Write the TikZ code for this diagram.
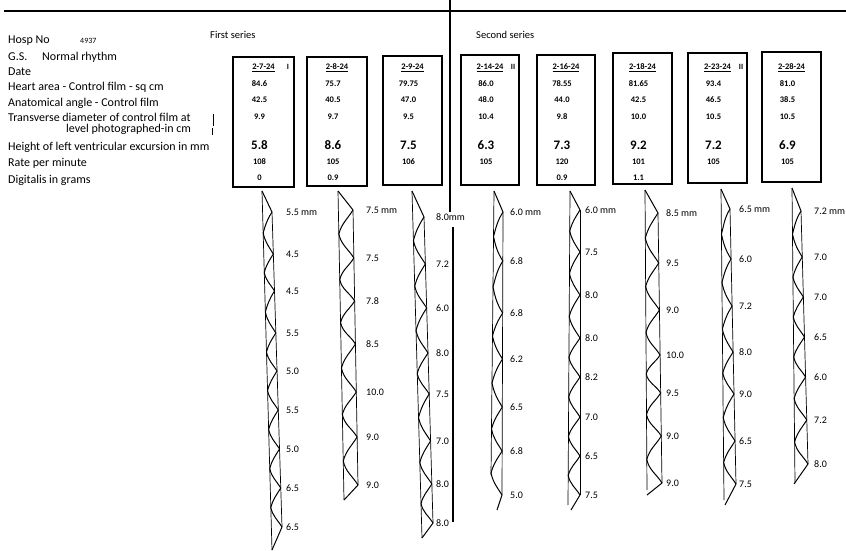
\documentclass[tikz,border=0pt]{standalone}
\usepackage{fontspec}
\setmainfont{Carlito}
\newcommand\fs[1]{\fontsize{#1}{#1}\selectfont}
\def\setcol#1#2#3#4#5#6#7#8#9{\def\xl{#1}\def\yl{#2}\def\xL{#3}\def\yL{#4}\def\xr{#5}\def\yr{#6}\def\xR{#7}\def\yR{#8}\def\lx{#9}}
\newcommand\drawcol[1]{%
  \pgfmathsetmacro\yq{2*\yl-\yr}%
  \coordinate (c#1top) at (\xl,\yl);
  \coordinate (c#1lb) at (\xL,\yL);
  \coordinate (c#1rt) at (\xr,\yr);
  \coordinate (c#1rb) at (\xR,\yR);
  \coordinate (c#1end) at (\bx,\by);
  \draw[wline] (c#1top) -- (c#1lb);
  \draw[wline] (c#1rt) -- (c#1rb);
  \foreach \p/\t [count=\i, remember=\p as \q (initially \yq)] in \pk {
    \pgfmathsetmacro\ty{(\q+\p)/2}
    \pgfmathsetmacro\tx{\xl+(\xL-\xl)*(\ty-\yl)/(\yL-\yl)}
    \pgfmathsetmacro\px{\xr+(\xR-\xr)*(\p-\yr)/(\yR-\yr)}
    \coordinate (c#1t\i) at (\tx,\ty);
    \coordinate (c#1p\i) at (\px,\p);
    \node[vlab] (v#1-\i) at (\lx,\p) {\t};
    \xdef\ncnt{\i}
  }
  \draw[wave] (c#1top) -- (c#1p1) foreach \i in {2,...,\ncnt} {
     to[out=238,in=75] (c#1t\i) to[out=-78,in=122] (c#1p\i)
  } -- (c#1end);
}
\begin{document}
\begin{tikzpicture}[x=1pt,y=-1pt,
  box/.style={draw,line width=1.1pt,inner sep=0pt},
  wline/.style={line width=0.7pt},
  wave/.style={line width=1pt,line join=round},
  lbl/.style={anchor=west,inner sep=0pt,font=\fs{12}},
  num/.style={inner sep=0pt,font=\fs{8.5}\bfseries},
  big/.style={inner sep=0pt,font=\fs{13}\bfseries},
  vlab/.style={anchor=west,inner sep=0pt,font=\fs{10}},
  ser/.style={anchor=west,inner sep=0pt,font=\fs{10.5}},
  rule/.style={line width=2pt}]
\useasboundingbox (0,0) rectangle (846,551);

% rules
\coordinate (tl) at (4,11); \coordinate (tr) at (846,11);
\draw[rule] (tl) -- (tr);
\coordinate (dv1) at (450,0); \coordinate (dv2) at (450,212);
\coordinate (dv3) at (453,227); \coordinate (dv4) at (453,522);
\draw[line width=1.8pt] (dv1) -- (dv2);
\draw[line width=1.6pt] (dv3) -- (dv4);

% left labels
\node[lbl] (hosp) at (8,41) {Hosp No};
\node[lbl,font=\fs{8}] (hospn) at (80,41) {4937};
\node[lbl] (gs) at (8,57) {G.S.};
\node[lbl] (gsn) at (42,57) {Normal rhythm};
\node[lbl] (date) at (8,72) {Date};
\node[lbl] (heart) at (8,87) {Heart area - Control film - sq cm};
\node[lbl] (anat) at (8,103) {Anatomical angle - Control film};
\node[lbl] (trans) at (8,117) {Transverse diameter of control film at};
\node[lbl] (level) at (66,129) {level photographed-in cm};
\node[lbl] (height) at (8,147) {Height of left ventricular excursion in mm};
\node[lbl] (rate) at (8,163) {Rate per minute};
\node[lbl] (digi) at (8,180) {Digitalis in grams};
\coordinate (br1) at (213,114); \coordinate (br2) at (213,126);
\coordinate (br3) at (212,128); \coordinate (br4) at (212,135);
\draw[line width=0.8pt] (br1) -- (br2);
\draw[line width=0.8pt] (br3) -- (br4);

\node[ser] (first) at (210,35) {First series};
\node[ser] (second) at (476,35) {Second series};

% boxes
\foreach \n/\xa/\ya/\xb/\yb/\dt/\mk/\ra/\rb/\rc/\rd/\re/\rf in {
  1/233/57/294/187/2-7-24/I/84.6/42.5/9.9/5.8/108/0,
  2/307/57/367/186/2-8-24/{}/75.7/40.5/9.7/8.6/105/0.9,
  3/383/56/442/185/2-9-24/{}/79.75/47.0/9.5/7.5/106/{},
  4/461/55/519/185/2-14-24/II/86.0/48.0/10.4/6.3/105/{},
  5/537/55/595/185/2-16-24/{}/78.55/44.0/9.8/7.3/120/0.9,
  6/613/53/672/184/2-18-24/{}/81.65/42.5/10.0/9.2/101/1.1,
  7/688/53/747/183/2-23-24/II/93.4/46.5/10.5/7.2/105/{},
  8/762/52/821/182/2-28-24/{}/81.0/38.5/10.5/6.9/105/{}}
{
  \pgfmathsetmacro\cx{(\xa+\xb)/2}
  \pgfmathsetmacro\nx{\cx-4}
  \pgfmathsetmacro\cy{(\ya+\yb)/2}
  \pgfmathsetmacro\bw{\xb-\xa}
  \pgfmathsetmacro\bh{\yb-\ya}
  \pgfmathsetmacro\mx{\xb-6}
  \node[box,minimum width=\bw pt,minimum height=\bh pt] (box\n) at (\cx,\cy) {};
  \node[num] (dt\n) at (\cx,68) {\underline{\dt}};
  \node[num,font=\fs{8}\bfseries] (mk\n) at (\mx,67) {\mk};
  \node[num] (ra\n) at (\nx,84) {\ra};
  \node[num] (rb\n) at (\nx,100) {\rb};
  \node[num] (rc\n) at (\nx,117) {\rc};
  \node[big] (rd\n) at (\nx,145) {\rd};
  \node[num] (re\n) at (\nx,162) {\re};
  \node[num] (rf\n) at (\nx,178) {\rf};
}

% wave columns
\setcol{262}{191}{272}{550}{272}{212}{282}{527}{286}\def\bx{272}\def\by{550}
\def\pk{212/5.5 mm,254/4.5,291/4.5,333/5.5,371/5.0,410/5.5,449/5.0,488/6.5,527/6.5}
\drawcol{1}
\setcol{338}{191}{344}{500}{353}{210}{358}{485}{366}\def\bx{344}\def\by{500}
\def\pk{210/7.5 mm,258/7.5,301/7.8,344/8.5,392/10.0,437/9.0,485/9.0}
\drawcol{2}
\setcol{412}{191}{422}{538}{424}{217}{433}{523}{436}\def\bx{422}\def\by{538}
\def\pk{217/8.0mm,264/7.2,308/6.0,353/8.0,394/7.5,441/7.0,484/8.0,523/8.0}
\drawcol{3}
\setcol{494}{191}{491}{475}{503}{212}{502}{495}{510}\def\bx{497}\def\by{510}
\def\pk{212/6.0 mm,261/6.8,313/6.8,359/6.2,407/6.5,451/6.8,495/5.0}
\drawcol{4}
\setcol{570}{191}{568}{505}{580}{210}{580}{495}{585}\def\bx{571}\def\by{510}
\def\pk{210/6.0 mm,252/7.5,295/8.0,338/8.0,377/8.2,417/7.0,456/6.5,495/7.5}
\drawcol{5}
\setcol{645}{190}{647}{490}{658}{213}{662}{483}{666}\def\bx{647}\def\by{495}
\def\pk{213/8.5 mm,263/9.5,310/9.0,355/10.0,393/9.5,436/9.0,483/9.0}
\drawcol{6}
\setcol{721}{189}{724}{500}{730}{209}{736}{484}{739}\def\bx{725}\def\by{505}
\def\pk{209/6.5 mm,259/6.0,306/7.2,352/8.0,394/9.0,441/6.5,484/7.5}
\drawcol{7}
\setcol{792}{188}{795}{483}{801}{211}{808}{464}{814}\def\bx{794}\def\by{484}
\def\pk{211/7.2 mm,257/7.0,297/7.0,337/6.5,377/6.0,420/7.2,464/8.0}
\drawcol{8}
\end{tikzpicture}
\end{document}
